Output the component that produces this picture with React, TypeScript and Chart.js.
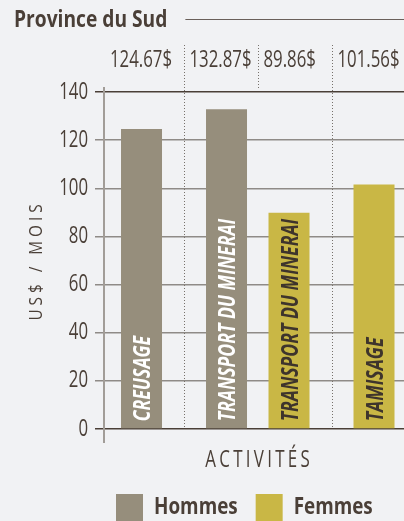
import React, { useEffect, useRef } from 'react';
import { Chart, registerables } from 'chart.js';

Chart.register(...registerables);

// ---- data ----
const categories = ['CREUSAGE', 'TRANSPORT DU MINERAI', 'TAMISAGE'];
const seriesNames = ['Hommes', 'Femmes'];
const hommes: (number | null)[] = [124.67, 132.87, null];
const femmes: (number | null)[] = [null, 89.86, 101.56];
const yMin = 0;
const yMax = 140;
const yStep = 20;
const chartTitle = 'Province du Sud';
const yTitle = 'US$ / MOIS';
const xTitle = 'ACTIVITÉS';

// ---- styles ----
const W = 404;
const H = 521;
const BG = '#f1f2f4';
const DARK = '#4a3f37';
const GRAY_GRID = '#8f8b87';
const AXIS_GRAY = '#a29d98';
const SEP_GRAY = '#77716b';
const BAR_COLORS = ['#968e7c', '#c9b745'];
const INNER_TEXT = ['#ffffff', '#3e342c'];
const FAMILY = '"Open Sans", "Liberation Sans", sans-serif';

type TextOpts = {
  font: string;
  sx: number;
  align?: 'left' | 'center' | 'right';
  spacing?: number;
  color: string;
};

// draws real text, horizontally condensed by sx
function drawText(ctx: CanvasRenderingContext2D, text: string, x: number, y: number, o: TextOpts) {
  ctx.save();
  ctx.font = o.font;
  const sp = o.spacing || 0;
  (ctx as any).letterSpacing = sp / o.sx + 'px';
  ctx.textAlign = 'left';
  ctx.textBaseline = 'alphabetic';
  const w = ctx.measureText(text).width * o.sx - sp;
  let left = x;
  if (o.align === 'center') left = x - w / 2;
  else if (o.align === 'right') left = x - w;
  ctx.translate(left, y);
  ctx.scale(o.sx, 1);
  ctx.fillStyle = o.color;
  ctx.fillText(text, 0, 0);
  ctx.restore();
  return w;
}

const NUM_STYLE = { font: '23px ' + FAMILY, sx: 0.73, color: DARK };

const decorPlugin = {
  id: 'decor',
  beforeDatasetsDraw(chart: any) {
    const { ctx, chartArea: a } = chart;
    ctx.save();
    ctx.strokeStyle = AXIS_GRAY;
    ctx.lineWidth = 2;
    ctx.beginPath();
    ctx.moveTo(a.left, a.top - 5);
    ctx.lineTo(a.left, a.bottom + 14);
    ctx.stroke();
    ctx.restore();

    // y tick labels from the library's scale
    const ys = chart.scales.y;
    ys.ticks.forEach((t: any) => {
      const py = ys.getPixelForValue(t.value);
      drawText(ctx, String(t.value), ys.right - 16, py + 6.5, { ...NUM_STYLE, align: 'right' });
    });
  },
  afterDatasetsDraw(chart: any) {
    const { ctx, chartArea: a } = chart;
    const bars: any[] = [];
    chart.data.datasets.forEach((ds: any, di: number) => {
      chart.getDatasetMeta(di).data.forEach((el: any, i: number) => {
        if (ds.data[i] != null) bars.push({ el, di, i, v: ds.data[i] });
      });
    });
    bars.sort((p, q) => p.el.x - q.el.x);

    // labels inside bars
    for (const b of bars) {
      ctx.save();
      ctx.translate(b.el.x, b.el.base - 7);
      ctx.rotate(-Math.PI / 2);
      drawText(ctx, categories[b.i], 0, 8.5, {
        font: 'italic bold 24px ' + FAMILY,
        sx: 0.735,
        color: INNER_TEXT[b.di],
      });
      ctx.restore();
    }

    // separators + value labels
    const seps: number[] = [];
    ctx.save();
    ctx.strokeStyle = SEP_GRAY;
    ctx.lineWidth = 1;
    ctx.setLineDash([1, 2]);
    for (let k = 1; k < bars.length; k++) {
      const p = bars[k - 1].el;
      const c = bars[k].el;
      const x = Math.round((p.x + p.width / 2 + c.x - c.width / 2) / 2) + 0.5;
      seps.push(x);
      const bottom = bars[k - 1].i === bars[k].i ? a.top - 2 : a.bottom - 2;
      ctx.beginPath();
      ctx.moveTo(x, a.top - 47);
      ctx.lineTo(x, bottom);
      ctx.stroke();
    }
    ctx.restore();

    bars.forEach((b, k) => {
      const left = k === 0 ? a.left + 6 : seps[k - 1] + 5;
      drawText(ctx, b.v.toFixed(2) + '$', left, a.top - 25, NUM_STYLE);
    });
  },
  afterDraw(chart: any) {
    const { ctx, chartArea: a } = chart;
    // title + rule
    const tw = drawText(ctx, chartTitle, 14, 27, { font: 'bold 24px ' + FAMILY, sx: 0.8, color: DARK });
    ctx.save();
    ctx.strokeStyle = '#6a605a';
    ctx.lineWidth = 1;
    ctx.beginPath();
    ctx.moveTo(14 + tw + 18, 19.5);
    ctx.lineTo(chart.width, 19.5);
    ctx.stroke();
    ctx.restore();

    // y title
    ctx.save();
    ctx.translate(41.5, (a.top + a.bottom) / 2 + 2);
    ctx.rotate(-Math.PI / 2);
    drawText(ctx, yTitle, 0, 0, { font: '18px ' + FAMILY, sx: 0.85, spacing: 4, align: 'center', color: DARK });
    ctx.restore();

    // x title
    drawText(ctx, xTitle, (a.left + a.right) / 2 + 3.5, a.bottom + 37.5, {
      font: '23px ' + FAMILY,
      sx: 0.735,
      spacing: 3.3,
      align: 'center',
      color: DARK,
    });

    // legend
    let x = a.left + 12;
    const boxTop = a.bottom + 65;
    chart.data.datasets.forEach((ds: any) => {
      ctx.fillStyle = ds.backgroundColor;
      ctx.fillRect(x, boxTop, 27, 27);
      x += 27 + 11;
      const w = drawText(ctx, ds.label, x, boxTop + 20, { font: 'bold 23px ' + FAMILY, sx: 0.82, color: DARK });
      x += w + 18;
    });
  },
};

export default function App() {
  const ref = useRef<HTMLCanvasElement>(null);
  useEffect(() => {
    if (!ref.current) return;
    const chart = new Chart(ref.current, {
      type: 'bar',
      data: {
        labels: categories,
        datasets: [
          { label: seriesNames[0], data: hommes, backgroundColor: BAR_COLORS[0] },
          { label: seriesNames[1], data: femmes, backgroundColor: BAR_COLORS[1] },
        ],
      },
      options: {
        responsive: false,
        animation: false,
        devicePixelRatio: 1,
        layout: { padding: { top: 92, left: 0, right: 0, bottom: 92 } },
        datasets: { bar: { categoryPercentage: 1.4706, barPercentage: 0.656 } } as any,
        plugins: {
          legend: { display: false },
          title: { display: false },
          tooltip: { enabled: false },
        },
        scales: {
          x: {
            display: false,
            afterBuildTicks: (s: any) => {
              s._startValue = -0.809;
              s._valueRange = 300 / 85;
            },
          },
          y: {
            min: yMin,
            max: yMax,
            ticks: { stepSize: yStep, display: false },
            grid: {
              color: (c: any) =>
                c.tick && (c.tick.value === yMin || c.tick.value === yMax) ? DARK : GRAY_GRID,
              lineWidth: 1.5,
              tickLength: 9,
            },
            border: { display: false },
            afterFit: (s: any) => {
              s.width = 104;
            },
          },
        },
      },
      plugins: [decorPlugin],
    });
    return () => chart.destroy();
  }, []);

  return (
    <div style={{ position: 'fixed', left: 0, top: 0, width: W, height: H, background: BG, overflow: 'hidden' }}>
      <canvas ref={ref} width={W} height={H} style={{ display: 'block' }} />
    </div>
  );
}
